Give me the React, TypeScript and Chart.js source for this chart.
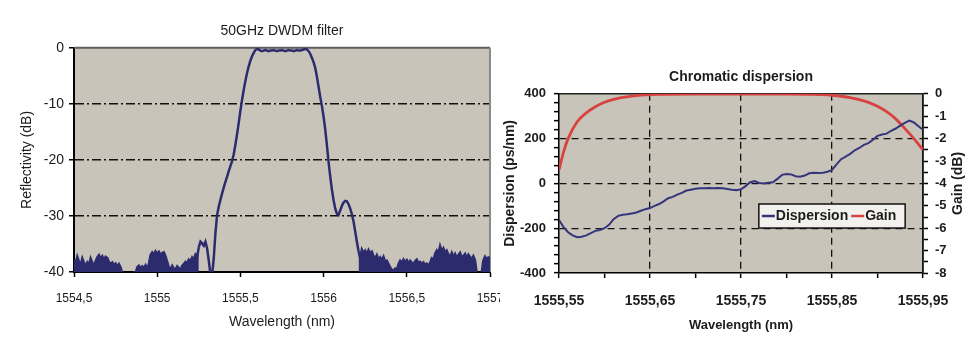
import React, { useEffect, useRef } from 'react';
import { Chart, registerables } from 'chart.js';

Chart.register(...registerables);

const FONT = "'Liberation Sans', Arial, Helvetica, sans-serif";
const TEXT = '#1c1c1c';
const NAVY = '#2c2b6e';
const DISP_NAVY = '#35357c';
const RED = '#d8433f';
const PLOT_BG = '#c9c4ba';

// ---------- Left chart: 50GHz DWDM filter ----------
const filterTitle = '50GHz DWDM filter';
const filterXTitle = 'Wavelength (nm)';
const filterYTitle = 'Reflectivity (dB)';
const filterStart = 1554.5; // nm, sampling grid start
const filterStep = 0.01; // nm, sampling grid step
const reflectivityDb = [
  // 1554.50
  -37.8, -38.6, -37.3, -38.2, -38.8, -37.6, -38.4, -38.9, -38.3, -38.7,
  // 1554.60
  -37.6, -38.4, -38.8, -38.1, -37.4, -37.0, -37.6, -37.2, -37.9, -37.3,
  // 1554.70
  -37.5, -38.2, -38.6, -38.3, -38.8, -38.5, -39.0, -38.6, -39.2, -40.3,
  // 1554.80
  -40.2, -40.4, -40.3, -40.2, -40.4, -40.3, -40.1, -40.3, -39.2, -38.9,
  // 1554.90
  -39.4, -39.0, -39.3, -38.8, -39.5, -38.6, -37.0, -36.5, -36.9, -36.3,
  // 1555.00
  -36.8, -36.4, -37.0, -36.6, -36.5, -37.2, -38.2, -39.2, -39.5, -38.9,
  // 1555.10
  -39.4, -39.6, -39.0, -39.3, -39.7, -38.9, -38.6, -38.2, -38.5, -37.8,
  // 1555.20
  -38.1, -37.4, -37.8, -36.9, -37.3, -35.6, -34.6, -34.9, -35.3, -34.6,
  // 1555.30
  -35.8, -38.0, -40.4, -40.6, -37.5, -33.0, -29.8, -28.3, -27.1, -26.0,
  // 1555.40
  -24.9, -23.9, -23.0, -22.0, -21.1, -20.2, -19.0, -17.3, -15.4, -13.4,
  // 1555.50
  -11.2, -9.3, -7.5, -5.9, -4.5, -3.3, -2.3, -1.5, -0.9, -0.4,
  // 1555.60
  -0.2, -0.3, -0.5, -0.6, -0.5, -0.4, -0.5, -0.6, -0.5, -0.5,
  // 1555.70
  -0.4, -0.5, -0.6, -0.5, -0.5, -0.4, -0.5, -0.6, -0.5, -0.4,
  // 1555.80
  -0.5, -0.5, -0.6, -0.5, -0.4, -0.5, -0.5, -0.4, -0.3, -0.2,
  // 1555.90
  -0.3, -0.6, -1.1, -1.8, -2.6, -3.6, -5.2, -7.0, -8.8, -10.4,
  // 1556.00
  -12.3, -14.6, -17.4, -20.4, -23.0, -25.3, -27.2, -28.7, -29.6, -29.8,
  // 1556.10
  -29.0, -28.2, -27.6, -27.3, -27.4, -27.9, -28.7, -29.7, -31.0, -32.8,
  // 1556.20
  -34.6, -36.3, -37.5, -36.0, -36.6, -36.2, -36.9, -36.1, -36.7, -36.4,
  // 1556.30
  -37.2, -37.6, -37.0, -37.8, -37.4, -37.9, -37.3, -38.2, -38.0, -38.6,
  // 1556.40
  -39.2, -39.6, -39.8, -39.4, -39.7, -38.6, -38.0, -38.4, -37.8, -38.3,
  // 1556.50
  -37.9, -38.5, -38.0, -38.3, -38.7, -38.1, -37.8, -38.4, -38.2, -38.6,
  // 1556.60
  -38.3, -38.7, -38.5, -38.9, -38.4, -37.6, -37.9, -36.8, -36.2, -36.7,
  // 1556.70
  -35.4, -36.3, -35.8, -36.6, -36.2, -36.9, -37.3, -36.6, -37.4, -36.8,
  // 1556.80
  -37.5, -37.0, -36.6, -37.4, -37.2, -36.8, -37.6, -36.9, -37.3, -37.8,
  // 1556.90
  -37.2, -37.9, -40.2, -40.4, -40.3, -40.2, -38.0, -37.3, -37.8, -37.4,
  // 1557.00
  -37.6,
];
// noise-floor bands (drawn filled down to the axis, as the dense scan appears)
const noiseBandBelow = 1555.245;
const noiseBandAbove = 1556.205;
const filterXTicks = [1554.5, 1555, 1555.5, 1556, 1556.5, 1557];
const filterYTicks = [-40, -30, -20, -10, 0];

// ---------- Right chart: Chromatic dispersion ----------
const dispTitle = 'Chromatic dispersion';
const dispXTitle = 'Wavelength (nm)';
const dispYTitle = 'Dispersion (ps/nm)';
const gainYTitle = 'Gain (dB)';
const dispStart = 1555.55; // nm, sampling grid start
const dispStep = 0.005; // nm, sampling grid step
const dispersionPsNm = [
  // 1555.550
  -163, -195, -218, -232, -240, -238, -232, -222, -212, -208,
  // 1555.600
  -200, -185, -160, -145, -140, -138, -134, -130, -122, -115,
  // 1555.650
  -110, -100, -92, -80, -66, -60, -50, -42, -32, -28,
  // 1555.700
  -24, -22, -22, -20, -22, -20, -22, -25, -28, -30,
  // 1555.750
  -26, -12, 5, 10, 2, 0, 3, 5, 20, 38,
  // 1555.800
  42, 40, 32, 30, 35, 45, 48, 46, 48, 52,
  // 1555.850
  60, 85, 108, 120, 132, 148, 158, 172, 180, 195,
  // 1555.900
  212, 218, 222, 235, 245, 258, 270, 280, 272, 255,
  // 1555.950
  240,
];
const gainWavelengths = [
  1555.55, 1555.555, 1555.56, 1555.57, 1555.58, 1555.59, 1555.6, 1555.61, 1555.62, 1555.63,
  1555.64, 1555.66, 1555.7, 1555.75, 1555.8, 1555.83, 1555.84, 1555.85, 1555.86, 1555.87,
  1555.88, 1555.89, 1555.9, 1555.91, 1555.92, 1555.93, 1555.94, 1555.95,
];
const gainDb = [
  -3.4, -2.6, -2.0, -1.25, -0.85, -0.58, -0.38, -0.25, -0.16, -0.1,
  -0.06, -0.02, -0.01, -0.01, -0.01, -0.02, -0.04, -0.07, -0.11, -0.17,
  -0.26, -0.38, -0.56, -0.8, -1.12, -1.55, -2.0, -2.5,
];
const dispXTicks = [1555.55, 1555.6, 1555.65, 1555.7, 1555.75, 1555.8, 1555.85, 1555.9, 1555.95];
const dispXLabelled = [1555.55, 1555.65, 1555.75, 1555.85, 1555.95];
const dispYTicks = [
  -400, -360, -320, -280, -240, -200, -160, -120, -80, -40, 0,
  40, 80, 120, 160, 200, 240, 280, 320, 360, 400,
];
const dispYLabelled = [-400, -200, 0, 200, 400];
const gainYTicks = [-8, -7.5, -7, -6.5, -6, -5.5, -5, -4.5, -4, -3.5, -3, -2.5, -2, -1.5, -1, -0.5, 0];
const gainYLabelled = [-8, -7, -6, -5, -4, -3, -2, -1, 0];

const near = (a: number, b: number) => Math.abs(a - b) < 1e-6;
const inList = (v: number, list: number[]) => list.some((t) => near(t, v));
const commaNum = (v: number, digits: number) => v.toFixed(digits).replace('.', ',');

// ---------- plugins ----------
const plotFrame = {
  id: 'plotFrame',
  beforeDraw(chart: any, _args: any, opts: any) {
    const { ctx, chartArea: a } = chart;
    ctx.save();
    ctx.fillStyle = '#ffffff';
    ctx.fillRect(0, 0, chart.width, chart.height);
    ctx.fillStyle = opts.background;
    ctx.fillRect(a.left, a.top, a.width, a.height);
    ctx.restore();
  },
  beforeDatasetsDraw(chart: any, _args: any, opts: any) {
    const { ctx, chartArea: a } = chart;
    ctx.save();
    ctx.lineWidth = opts.frameWidth;
    ctx.strokeStyle = opts.topColor;
    ctx.beginPath();
    ctx.moveTo(a.left, a.top);
    ctx.lineTo(a.right, a.top);
    ctx.stroke();
    ctx.strokeStyle = opts.rightColor;
    ctx.beginPath();
    ctx.moveTo(a.right, a.top);
    ctx.lineTo(a.right, a.bottom);
    ctx.stroke();
    ctx.restore();
  },
};

const sideTitle = {
  id: 'sideTitle',
  afterDraw(chart: any, _args: any, opts: any) {
    if (!opts || !opts.text) return;
    const { ctx, chartArea: a } = chart;
    ctx.save();
    ctx.translate(chart.width - opts.offset, (a.top + a.bottom) / 2);
    ctx.rotate(-Math.PI / 2);
    ctx.font = opts.font;
    ctx.fillStyle = TEXT;
    ctx.textAlign = 'center';
    ctx.textBaseline = 'middle';
    ctx.fillText(opts.text, 0, 0);
    ctx.restore();
  },
};

const insideLegend = {
  id: 'insideLegend',
  afterDatasetsDraw(chart: any, _args: any, opts: any) {
    const { ctx, chartArea: a } = chart;
    const x0 = a.left + a.width * opts.left;
    const x1 = a.left + a.width * opts.right;
    const y0 = a.top + a.height * opts.top;
    const y1 = a.top + a.height * opts.bottom;
    ctx.save();
    ctx.fillStyle = '#f2f1ee';
    ctx.fillRect(x0, y0, x1 - x0, y1 - y0);
    ctx.lineWidth = 1.5;
    ctx.strokeStyle = '#111';
    ctx.strokeRect(x0, y0, x1 - x0, y1 - y0);
    const midY = (y0 + y1) / 2;
    ctx.font = opts.font;
    ctx.textBaseline = 'middle';
    ctx.textAlign = 'left';
    let x = x0 + 3;
    chart.data.datasets.forEach((ds: any) => {
      ctx.strokeStyle = ds.borderColor;
      ctx.lineWidth = 2.5;
      ctx.beginPath();
      ctx.moveTo(x, midY);
      ctx.lineTo(x + 13, midY);
      ctx.stroke();
      x += 14;
      ctx.fillStyle = TEXT;
      ctx.fillText(ds.label, x, midY + 0.5);
      x += ctx.measureText(ds.label).width + 3;
    });
    ctx.restore();
  },
};

function FilterChart() {
  const ref = useRef<HTMLCanvasElement | null>(null);
  useEffect(() => {
    if (!ref.current) return;
    const points = reflectivityDb.map((y, i) => ({ x: filterStart + i * filterStep, y }));
    const chart = new Chart(ref.current, {
      type: 'line',
      data: {
        datasets: [
          {
            label: 'Reflectivity',
            data: points,
            borderColor: NAVY,
            backgroundColor: 'rgba(0,0,0,0)',
            borderWidth: 2.5,
            pointRadius: 0,
            tension: 0,
            fill: 'start',
            segment: {
              backgroundColor: (c: any) =>
                c.p0.parsed.x < noiseBandBelow || c.p0.parsed.x > noiseBandAbove ? NAVY : 'rgba(0,0,0,0)',
            },
          },
        ],
      },
      plugins: [plotFrame],
      options: {
        animation: false,
        responsive: false,
        devicePixelRatio: 1,
        events: [],
        layout: { padding: { left: 0, right: 30, top: 0, bottom: 0 } },
        plugins: {
          legend: { display: false },
          tooltip: { enabled: false },
          filler: { propagate: false },
          title: {
            display: true,
            text: filterTitle,
            fullSize: false,
            color: TEXT,
            font: { family: FONT, size: 14, weight: 'normal' },
            padding: { top: 23, bottom: 8 },
          },
          plotFrame: { background: PLOT_BG, topColor: '#5e5e5e', rightColor: '#8a8a8a', frameWidth: 2 },
        } as any,
        scales: {
          x: {
            type: 'linear',
            min: 1554.5,
            max: 1557,
            afterBuildTicks: (s: any) => {
              s.ticks = filterXTicks.map((value) => ({ value }));
            },
            afterFit: (s: any) => {
              s.height = 67;
            },
            ticks: {
              autoSkip: false,
              maxRotation: 0,
              padding: 14,
              color: TEXT,
              font: { family: FONT, size: 12 },
              callback: (v: any) => {
                const n = Number(v);
                return Number.isInteger(n) ? String(n) : commaNum(n, 1);
              },
            },
            grid: { drawOnChartArea: false, tickLength: 5, tickColor: '#000', tickWidth: 1.5 },
            border: { color: '#000', width: 2 },
            title: {
              display: true,
              text: filterXTitle,
              color: TEXT,
              font: { family: FONT, size: 14 },
              padding: { top: 0, bottom: 8 },
            },
          },
          y: {
            type: 'linear',
            min: -40,
            max: 0,
            afterBuildTicks: (s: any) => {
              s.ticks = filterYTicks.map((value) => ({ value }));
            },
            afterFit: (s: any) => {
              s.width = 74;
            },
            ticks: {
              padding: 5,
              color: TEXT,
              font: { family: FONT, size: 14 },
              callback: (v: any) => String(v),
            },
            grid: {
              color: (c: any) => (c.tick && (c.tick.value === 0 || c.tick.value === -40) ? 'rgba(0,0,0,0)' : '#111'),
              lineWidth: 1.5,
              tickLength: 5,
              tickColor: '#000',
              tickWidth: 1.5,
            },
            border: { color: '#000', width: 2, dash: [9, 3, 2, 3] },
            title: {
              display: true,
              text: filterYTitle,
              color: TEXT,
              font: { family: FONT, size: 14 },
              padding: { top: 19, bottom: 0 },
            },
          },
        },
      } as any,
    });
    return () => chart.destroy();
  }, []);
  return <canvas ref={ref} width={520} height={339} style={{ display: 'block' }} />;
}

function DispersionChart() {
  const ref = useRef<HTMLCanvasElement | null>(null);
  useEffect(() => {
    if (!ref.current) return;
    const dispPoints = dispersionPsNm.map((y, i) => ({ x: dispStart + i * dispStep, y }));
    const gainPoints = gainWavelengths.map((x, i) => ({ x, y: gainDb[i] }));
    const chart = new Chart(ref.current, {
      type: 'line',
      data: {
        datasets: [
          {
            label: 'Dispersion',
            data: dispPoints,
            yAxisID: 'y',
            borderColor: DISP_NAVY,
            borderWidth: 2,
            pointRadius: 0,
            tension: 0,
            fill: false,
          },
          {
            label: 'Gain',
            data: gainPoints,
            yAxisID: 'y2',
            borderColor: RED,
            borderWidth: 2.8,
            pointRadius: 0,
            cubicInterpolationMode: 'monotone',
            fill: false,
          },
        ],
      },
      plugins: [plotFrame, sideTitle, insideLegend],
      options: {
        animation: false,
        responsive: false,
        devicePixelRatio: 1,
        events: [],
        layout: { padding: { left: 0, right: 0, top: 0, bottom: 0 } },
        plugins: {
          legend: { display: false },
          tooltip: { enabled: false },
          title: {
            display: true,
            text: dispTitle,
            fullSize: false,
            color: TEXT,
            font: { family: FONT, size: 14, weight: 'bold' },
            padding: { top: 69, bottom: 8 },
          },
          plotFrame: { background: PLOT_BG, topColor: '#222', rightColor: '#222', frameWidth: 1.5 },
          sideTitle: { text: gainYTitle, offset: 19, font: `bold 14px ${FONT}` },
          insideLegend: { left: 0.549, right: 0.951, top: 0.615, bottom: 0.749, font: `bold 14px ${FONT}` },
        } as any,
        scales: {
          x: {
            type: 'linear',
            min: 1555.55,
            max: 1555.95,
            afterBuildTicks: (s: any) => {
              s.ticks = dispXTicks.map((value) => ({ value }));
            },
            afterFit: (s: any) => {
              s.height = 66;
            },
            ticks: {
              autoSkip: false,
              maxRotation: 0,
              padding: 15,
              color: TEXT,
              font: { family: FONT, size: 14, weight: 'bold' },
              callback: (v: any) => (inList(Number(v), dispXLabelled) ? commaNum(Number(v), 2) : ''),
            },
            grid: {
              color: (c: any) =>
                c.tick && inList(c.tick.value, dispXLabelled) && !near(c.tick.value, 1555.55) && !near(c.tick.value, 1555.95)
                  ? '#111'
                  : 'rgba(0,0,0,0)',
              lineWidth: 1.3,
              tickLength: 5,
              tickColor: '#000',
              tickWidth: 1.5,
            },
            border: { color: '#000', width: 1.5, dash: [7, 5] },
            title: {
              display: true,
              text: dispXTitle,
              color: TEXT,
              font: { family: FONT, size: 13, weight: 'bold' },
              padding: { top: 0, bottom: 6 },
            },
          },
          y: {
            type: 'linear',
            position: 'left',
            min: -400,
            max: 400,
            afterBuildTicks: (s: any) => {
              s.ticks = dispYTicks.map((value) => ({ value }));
            },
            afterFit: (s: any) => {
              s.width = 59;
            },
            ticks: {
              autoSkip: false,
              padding: 8,
              color: TEXT,
              font: { family: FONT, size: 13, weight: 'bold' },
              callback: (v: any) => (inList(Number(v), dispYLabelled) ? String(v) : ''),
            },
            grid: {
              color: (c: any) =>
                c.tick && inList(c.tick.value, dispYLabelled) && Math.abs(c.tick.value) < 400 ? '#111' : 'rgba(0,0,0,0)',
              lineWidth: 1.3,
              tickLength: 5,
              tickColor: '#000',
              tickWidth: 1.5,
            },
            border: { color: '#000', width: 1.5, dash: [7, 5] },
            title: {
              display: true,
              text: dispYTitle,
              color: TEXT,
              font: { family: FONT, size: 14, weight: 'bold' },
              padding: { top: 2, bottom: 0 },
            },
          },
          y2: {
            type: 'linear',
            position: 'right',
            min: -8,
            max: 0,
            afterBuildTicks: (s: any) => {
              s.ticks = gainYTicks.map((value) => ({ value }));
            },
            afterFit: (s: any) => {
              s.width = 54;
            },
            ticks: {
              autoSkip: false,
              padding: 7,
              color: TEXT,
              font: { family: FONT, size: 13, weight: 'bold' },
              callback: (v: any) => (inList(Number(v), gainYLabelled) ? String(v) : ''),
            },
            grid: { drawOnChartArea: false, tickLength: 5, tickColor: '#000', tickWidth: 1.5 },
            border: { color: '#000', width: 1.5 },
          },
        },
      } as any,
    });
    return () => chart.destroy();
  }, []);
  return <canvas ref={ref} width={477} height={339} style={{ display: 'block' }} />;
}

export default function App() {
  return (
    <div
      style={{
        position: 'absolute',
        left: 0,
        top: 0,
        width: 977,
        height: 339,
        background: '#ffffff',
        overflow: 'hidden',
      }}
    >
      <div style={{ position: 'absolute', left: 0, top: 0, width: 500, height: 339, overflow: 'hidden' }}>
        <FilterChart />
      </div>
      <div style={{ position: 'absolute', left: 500, top: 0, width: 477, height: 339 }}>
        <DispersionChart />
      </div>
    </div>
  );
}
